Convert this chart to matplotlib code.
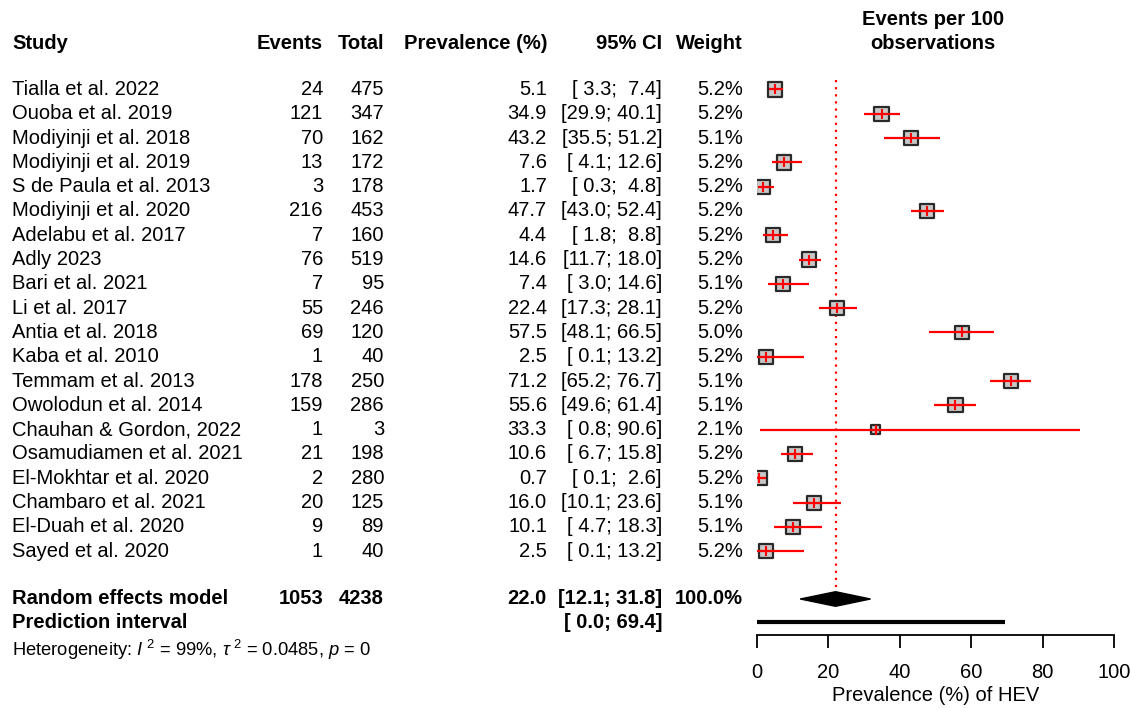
import matplotlib as mpl
import matplotlib.pyplot as plt
import matplotlib.transforms as mtransforms

mpl.use('Agg')

plt.rcParams['font.family'] = ['Liberation Sans', 'DejaVu Sans']
plt.rcParams['mathtext.fontset'] = 'custom'
plt.rcParams['mathtext.rm'] = 'Liberation Sans'
plt.rcParams['mathtext.it'] = 'Liberation Sans:italic'

studies = ["Tialla et al. 2022", "Ouoba et al. 2019", "Modiyinji et al. 2018",
           "Modiyinji et al. 2019", "S de Paula et al. 2013", "Modiyinji et al. 2020",
           "Adelabu et al. 2017", "Adly 2023", "Bari et al. 2021", "Li et al. 2017",
           "Antia et al. 2018", "Kaba et al. 2010", "Temmam et al. 2013",
           "Owolodun et al. 2014", "Chauhan & Gordon, 2022", "Osamudiamen et al. 2021",
           "El-Mokhtar et al. 2020", "Chambaro et al. 2021", "El-Duah et al. 2020",
           "Sayed et al. 2020"]
events = [24, 121, 70, 13, 3, 216, 7, 76, 7, 55, 69, 1, 178, 159, 1, 21, 2, 20, 9, 1]
totals = [475, 347, 162, 172, 178, 453, 160, 519, 95, 246, 120, 40, 250, 286, 3, 198, 280, 125, 89, 40]
prev = [5.1, 34.9, 43.2, 7.6, 1.7, 47.7, 4.4, 14.6, 7.4, 22.4, 57.5, 2.5, 71.2, 55.6, 33.3,
        10.6, 0.7, 16.0, 10.1, 2.5]
ci_lo = [3.3, 29.9, 35.5, 4.1, 0.3, 43.0, 1.8, 11.7, 3.0, 17.3, 48.1, 0.1, 65.2, 49.6, 0.8,
         6.7, 0.1, 10.1, 4.7, 0.1]
ci_hi = [7.4, 40.1, 51.2, 12.6, 4.8, 52.4, 8.8, 18.0, 14.6, 28.1, 66.5, 13.2, 76.7, 61.4, 90.6,
         15.8, 2.6, 23.6, 18.3, 13.2]
weights = [5.2, 5.2, 5.1, 5.2, 5.2, 5.2, 5.2, 5.2, 5.1, 5.2, 5.0, 5.2, 5.1, 5.1, 2.1,
           5.2, 5.2, 5.1, 5.1, 5.2]

pooled = 22.0
pooled_lo = 12.1
pooled_hi = 31.8
pred_lo = 0.0
pred_hi = 69.4
sum_events = 1053
sum_total = 4238

W, H = 1131, 708
fig = plt.figure(figsize=(W / 100, H / 100), dpi=100)

# forest panel: x=0 at 757px, x=100 at 1114px; rows 24.3px apart starting at 89.5px
row_h = 24.3
def row(py):
    return (py - 89.5) / row_h

ax = fig.add_axes([757 / W, (H - 635) / H, 357 / W, (635 - 60) / H])
ax.set_xlim(0, 100)
ax.set_ylim(row(635), row(60))

n = len(studies)
rows = list(range(n))

# study squares (area ~ weight) and CIs
ax.scatter(prev, rows, s=[w / 5.2 * 105 for w in weights], marker='s',
           facecolor='#c8c8c8', edgecolor='#2a2a2a', linewidths=1.6, zorder=2)
ax.hlines(rows, ci_lo, ci_hi, color='red', lw=1.6, zorder=3)
ax.plot(prev, rows, ls='none', marker='|', ms=7, mew=1.5, color='red', zorder=4)

# pooled estimate
r_re = row(599)
ax.vlines(pooled, row(80), r_re - 0.2, color='red', lw=1.6, linestyles=(0, (1, 2.2)), zorder=1)
hh = 0.3
ax.fill([pooled_lo, pooled, pooled_hi, pooled], [r_re, r_re - hh, r_re, r_re + hh],
        color='black', zorder=3)
ax.hlines(row(622), pred_lo, pred_hi, color='black', lw=3, zorder=3)

for s in ['top', 'right', 'left']:
    ax.spines[s].set_visible(False)
ax.spines['bottom'].set_bounds(0, 100)
ax.spines['bottom'].set_linewidth(1.3)
ax.set_yticks([])
ax.set_xticks([0, 20, 40, 60, 80, 100])
ax.tick_params(axis='x', length=9, width=1.3, pad=11, labelsize=14.5)
ax.set_xlabel("Prevalence (%) of HEV", fontsize=14.5, labelpad=3)
ax.patch.set_visible(False)

# text columns (x in figure fraction, y in row units)
tr = mtransforms.blended_transform_factory(fig.transFigure, ax.transData)
fs = 14.5
x_study = 12 / W
x_ev = 323 / W
x_tot = 384 / W
x_prev = 547 / W
x_ci = 662 / W
x_w = 743 / W

def put(x, y, s, ha='right', bold=False, size=fs):
    ax.text(x, y, s, transform=tr, ha=ha, va='center', fontsize=size,
            fontweight='bold' if bold else 'normal', clip_on=False)

r_head = row(44)
put(x_study, r_head, "Study", ha='left', bold=True)
put(x_ev, r_head, "Events", bold=True)
put(x_tot, r_head, "Total", bold=True)
put(x_prev, r_head, "Prevalence (%)", bold=True)
put(x_ci, r_head, "95% CI", bold=True)
put(x_w, r_head, "Weight", bold=True)
put(933 / W, row(20), "Events per 100", ha='center', bold=True)
put(933 / W, row(44), "observations", ha='center', bold=True)

for i in range(n):
    put(x_study, i, studies[i], ha='left')
    put(x_ev, i, str(events[i]))
    put(x_tot, i, str(totals[i]))
    put(x_prev, i, f"{prev[i]:.1f}")
    put(x_ci, i, f"[{ci_lo[i]:4.1f}; {ci_hi[i]:4.1f}]")
    put(x_w, i, f"{weights[i]:.1f}%")

put(x_study, r_re, "Random effects model", ha='left', bold=True)
put(x_ev, r_re, str(sum_events), bold=True)
put(x_tot, r_re, str(sum_total), bold=True)
put(x_prev, r_re, f"{pooled:.1f}", bold=True)
put(x_ci, r_re, f"[{pooled_lo:.1f}; {pooled_hi:.1f}]", bold=True)
put(x_w, r_re, "100.0%", bold=True)

r_pi = row(623)
put(x_study, r_pi, "Prediction interval", ha='left', bold=True)
put(x_ci, r_pi, f"[{pred_lo:4.1f}; {pred_hi:4.1f}]", bold=True)

put(x_study, row(650),
    r"Heterogeneity: $I^{\ 2}\ $= 99%, $\tau^{\ 2}\ $= 0.0485, $p$ = 0",
    ha='left', size=13.2)

fig.savefig("out.png", dpi=100)
